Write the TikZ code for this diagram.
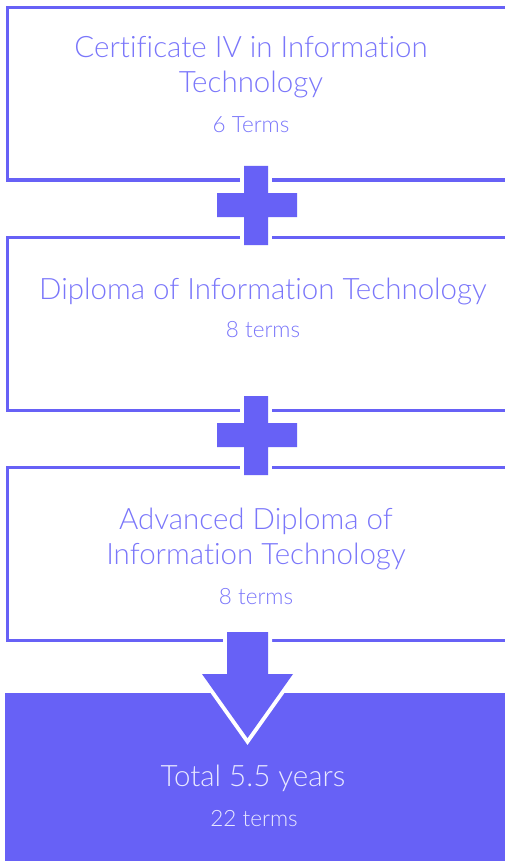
\documentclass[tikz,border=0pt]{standalone}
\usepackage{fontspec}
\setmainfont{Lato}[UprightFont=* Light,Ligatures=NoCommon]
\usetikzlibrary{positioning}
\definecolor{plum}{RGB}{103,97,246}
\definecolor{plumtext}{RGB}{122,118,250}
\definecolor{paletext}{RGB}{232,232,255}
\tikzset{
  stepbox/.style={line width=3pt,draw=plum},
  bigtext/.style={text=plumtext,font=\fontsize{29.5}{35}\selectfont,align=center,anchor=base},
  smalltext/.style={text=plumtext,font=\fontsize{22.5}{26}\selectfont,anchor=base},
  plusgap/.style={draw=white,line width=8pt,line join=miter},
}

\begin{document}
\begin{tikzpicture}[x=1pt,y=-1pt]
      \useasboundingbox (0,0) rectangle (505,861);
      \clip (0,0) rectangle (505,861);

      % the three course boxes (open on the right)
      \draw[stepbox] (7,8) rectangle (530,180);
      \node[bigtext] (cert) at (251,93) {Certificate IV in Information\\ Technology};
      \node[smalltext] (certterms) at (251,133) {6 Terms};

      \draw[stepbox] (7,237) rectangle (530,410);
      \node[bigtext] (dip) at (263,299) {Diploma of Information Technology};
      \node[smalltext] (dipterms) at (263,337) {8 terms};

      \draw[stepbox] (7,467) rectangle (530,640);
      \node[bigtext] (adv) at (256,564) {Advanced Diploma of\\ Information Technology};
      \node[smalltext] (advterms) at (256,604) {8 terms};

      % plus signs between the boxes
      \foreach \py in {166,396} {
        \draw[plusgap] (244,\py) -- ++(24,0) -- ++(0,27) -- ++(29,0) -- ++(0,24)
          -- ++(-29,0) -- ++(0,28) -- ++(-24,0) -- ++(0,-28) -- ++(-27,0)
          -- ++(0,-24) -- ++(27,0) -- cycle;
        \fill[plum] (244,\py) -- ++(24,0) -- ++(0,27) -- ++(29,0) -- ++(0,24)
          -- ++(-29,0) -- ++(0,28) -- ++(-24,0) -- ++(0,-28) -- ++(-27,0)
          -- ++(0,-24) -- ++(27,0) -- cycle;
      }

      % total box
      \fill[plum] (5,693) rectangle (505,861);

      % arrow down into the total
      \draw[plusgap] (227,632) -- (268,632) -- (268,674) -- (293,674) -- (247.5,738)
        -- (202,674) -- (227,674) -- cycle;
      \fill[plum] (227,632) -- (268,632) -- (268,674) -- (293,674) -- (247.5,738)
        -- (202,674) -- (227,674) -- cycle;

      \node[bigtext,text=paletext] (total) at (253,786) {Total 5.5 years};
      \node[smalltext,text=paletext] (totalterms) at (254,826) {22 terms};
\end{tikzpicture}
\end{document}
